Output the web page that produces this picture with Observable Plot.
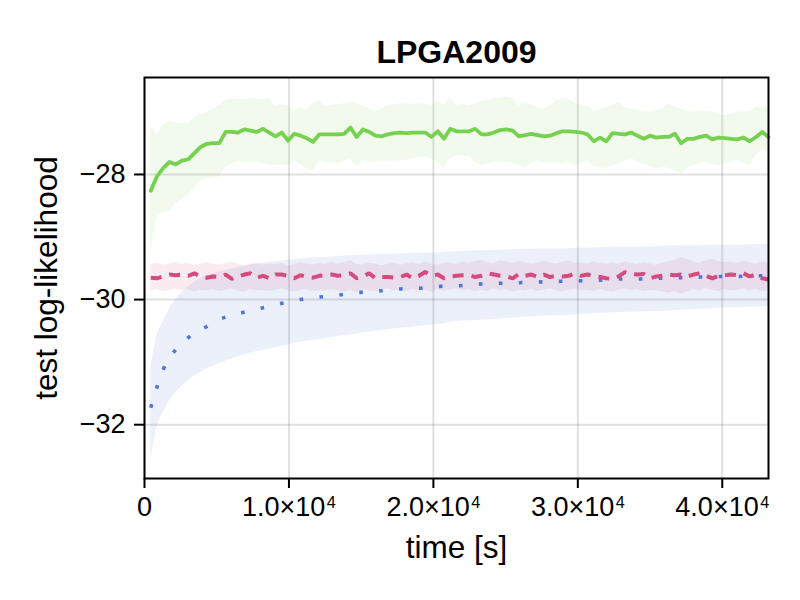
<!DOCTYPE html>
<html>
<head>
<meta charset="utf-8">
<script src="https://cdn.jsdelivr.net/npm/d3@7"></script>
<script src="https://cdn.jsdelivr.net/npm/@observablehq/plot@0.6"></script>
<style>
  html, body { margin: 0; padding: 0; background: #fff; }
  #chart { width: 800px; height: 600px; }
</style>
</head>
<body>
<div id="chart"></div>
<script>
const title = "LPGA2009";
const xLabel = "time [s]";
const yLabel = "test log-likelihood";
const xTicks = [0, 10000, 20000, 30000, 40000];
const xTickLabels = ["0", "1.0×10⁴", "2.0×10⁴", "3.0×10⁴", "4.0×10⁴"];
const yTicks = [-32, -30, -28];
const yTickLabels = ["−32", "−30", "−28"];
const xDomain = [0, 43200];
const yDomain = [-32.86, -26.45];

const time = [432,864,1296,1728,2160,2592,3024,3456,3888,4320,
4752,5184,5616,6048,6480,6912,7344,7776,8208,8640,
9072,9504,9936,10368,10800,11232,11664,12096,12528,12960,
13392,13824,14256,14688,15120,15552,15984,16416,16848,17280,
17712,18144,18576,19008,19440,19872,20304,20736,21168,21600,
22032,22464,22896,23328,23760,24192,24624,25056,25488,25920,
26352,26784,27216,27648,28080,28512,28944,29376,29808,30240,
30672,31104,31536,31968,32400,32832,33264,33696,34128,34560,
34992,35424,35856,36288,36720,37152,37584,38016,38448,38880,
39312,39744,40176,40608,41040,41472,41904,42336,42768,43200];

const greenMean = [-28.26,-28.03,-27.90,-27.80,-27.84,-27.78,-27.76,-27.66,-27.56,-27.51,
-27.50,-27.50,-27.32,-27.32,-27.33,-27.28,-27.30,-27.32,-27.27,-27.33,
-27.39,-27.33,-27.46,-27.35,-27.38,-27.42,-27.48,-27.36,-27.36,-27.36,
-27.36,-27.35,-27.25,-27.40,-27.28,-27.32,-27.38,-27.39,-27.36,-27.34,
-27.33,-27.34,-27.33,-27.33,-27.33,-27.40,-27.31,-27.43,-27.27,-27.31,
-27.31,-27.31,-27.27,-27.36,-27.36,-27.33,-27.29,-27.28,-27.30,-27.39,
-27.37,-27.35,-27.37,-27.39,-27.38,-27.34,-27.31,-27.31,-27.32,-27.33,
-27.36,-27.47,-27.41,-27.47,-27.34,-27.35,-27.36,-27.33,-27.38,-27.43,
-27.38,-27.41,-27.40,-27.40,-27.35,-27.50,-27.43,-27.43,-27.40,-27.38,
-27.44,-27.41,-27.42,-27.43,-27.44,-27.41,-27.47,-27.40,-27.32,-27.40];
const greenHi = [-27.22,-27.35,-27.22,-27.14,-27.19,-27.18,-27.18,-27.10,-27.03,-27.00,
-26.95,-26.90,-26.82,-26.80,-26.79,-26.80,-26.78,-26.80,-26.79,-26.79,
-26.92,-26.88,-26.90,-27.00,-26.92,-26.98,-26.87,-26.82,-26.92,-26.90,
-26.88,-26.87,-26.84,-26.88,-26.90,-26.95,-27.00,-26.95,-26.90,-26.88,
-26.87,-26.87,-26.88,-26.86,-26.88,-26.92,-26.82,-26.90,-26.77,-26.91,
-26.88,-26.91,-26.87,-26.84,-26.82,-26.79,-26.78,-26.76,-26.79,-26.90,
-26.86,-26.89,-26.92,-26.96,-26.90,-26.82,-26.79,-26.79,-26.86,-26.89,
-26.91,-27.00,-26.96,-26.93,-26.88,-26.86,-26.93,-26.96,-26.98,-26.99,
-27.00,-26.98,-26.95,-26.88,-26.93,-26.96,-26.99,-27.00,-26.99,-26.99,
-27.00,-27.03,-27.06,-27.03,-27.00,-27.00,-27.00,-26.93,-26.92,-26.92];
const greenLo = [-29.27,-28.68,-28.62,-28.58,-28.47,-28.40,-28.33,-28.22,-28.10,-28.07,
-28.06,-28.04,-27.88,-27.83,-27.80,-27.81,-27.80,-27.80,-27.83,-27.85,
-27.86,-27.85,-27.86,-27.78,-27.84,-27.91,-27.94,-27.78,-27.80,-27.82,
-27.82,-27.79,-27.75,-27.88,-27.78,-27.80,-27.80,-27.79,-27.79,-27.79,
-27.78,-27.78,-27.75,-27.73,-27.72,-27.75,-27.80,-27.91,-27.74,-27.70,
-27.70,-27.71,-27.80,-27.87,-27.83,-27.81,-27.80,-27.81,-27.82,-27.86,
-27.89,-27.82,-27.78,-27.81,-27.83,-27.82,-27.82,-27.80,-27.87,-27.82,
-27.78,-27.87,-27.89,-27.91,-27.87,-27.83,-27.79,-27.75,-27.79,-27.83,
-27.88,-27.91,-27.89,-27.90,-27.94,-27.99,-27.90,-27.86,-27.82,-27.80,
-27.84,-27.86,-27.83,-27.80,-27.77,-27.82,-27.86,-27.70,-27.60,-27.64];

const redMean = [-29.65,-29.66,-29.63,-29.60,-29.61,-29.60,-29.62,-29.58,-29.64,-29.65,
-29.63,-29.64,-29.60,-29.67,-29.63,-29.60,-29.58,-29.65,-29.62,-29.66,
-29.60,-29.60,-29.62,-29.66,-29.61,-29.64,-29.65,-29.62,-29.61,-29.60,
-29.62,-29.61,-29.58,-29.66,-29.63,-29.58,-29.66,-29.64,-29.64,-29.65,
-29.64,-29.60,-29.66,-29.62,-29.56,-29.62,-29.60,-29.66,-29.63,-29.62,
-29.61,-29.61,-29.64,-29.62,-29.58,-29.60,-29.62,-29.63,-29.66,-29.59,
-29.62,-29.60,-29.64,-29.60,-29.64,-29.62,-29.63,-29.62,-29.58,-29.62,
-29.60,-29.62,-29.64,-29.66,-29.67,-29.63,-29.56,-29.59,-29.60,-29.59,
-29.66,-29.63,-29.62,-29.60,-29.61,-29.60,-29.63,-29.60,-29.58,-29.62,
-29.66,-29.62,-29.61,-29.60,-29.61,-29.58,-29.63,-29.60,-29.66,-29.68];
const redHi = [-29.44,-29.42,-29.45,-29.43,-29.41,-29.44,-29.42,-29.46,-29.43,-29.41,
-29.44,-29.45,-29.42,-29.40,-29.44,-29.46,-29.43,-29.41,-29.45,-29.43,
-29.44,-29.42,-29.46,-29.44,-29.41,-29.43,-29.45,-29.42,-29.44,-29.40,
-29.43,-29.41,-29.38,-29.44,-29.45,-29.42,-29.43,-29.46,-29.44,-29.42,
-29.45,-29.43,-29.41,-29.44,-29.40,-29.43,-29.45,-29.42,-29.41,-29.44,
-29.40,-29.42,-29.39,-29.37,-29.41,-29.43,-29.38,-29.40,-29.42,-29.39,
-29.41,-29.44,-29.42,-29.39,-29.41,-29.43,-29.40,-29.38,-29.42,-29.41,
-29.43,-29.40,-29.42,-29.44,-29.41,-29.43,-29.40,-29.42,-29.44,-29.41,
-29.43,-29.45,-29.42,-29.40,-29.37,-29.33,-29.35,-29.40,-29.42,-29.38,
-29.36,-29.39,-29.41,-29.40,-29.42,-29.39,-29.41,-29.43,-29.40,-29.42];
const redLo = [-29.86,-29.84,-29.87,-29.85,-29.83,-29.86,-29.84,-29.88,-29.85,-29.86,
-29.84,-29.87,-29.85,-29.83,-29.86,-29.88,-29.84,-29.86,-29.85,-29.87,
-29.85,-29.83,-29.86,-29.88,-29.85,-29.84,-29.87,-29.85,-29.86,-29.84,
-29.86,-29.88,-29.85,-29.89,-29.84,-29.86,-29.87,-29.85,-29.83,-29.86,
-29.85,-29.87,-29.84,-29.86,-29.85,-29.88,-29.84,-29.86,-29.85,-29.83,
-29.86,-29.84,-29.88,-29.85,-29.87,-29.83,-29.86,-29.84,-29.88,-29.85,
-29.86,-29.84,-29.87,-29.85,-29.83,-29.86,-29.88,-29.85,-29.84,-29.86,
-29.85,-29.87,-29.84,-29.86,-29.88,-29.85,-29.83,-29.86,-29.84,-29.87,
-29.85,-29.86,-29.88,-29.90,-29.87,-29.91,-29.88,-29.84,-29.86,-29.83,
-29.85,-29.87,-29.84,-29.86,-29.85,-29.83,-29.86,-29.84,-29.87,-29.85];

const blueTime = [432,864,1296,2160,3024,4320,5184,6912,8208,9504,
10800,12096,13392,14688,16416,17712,19008,20304,21600,23328,
24624,25920,27216,28512,30240,31536,32832,34128,35424,37152,
38448,39744,41040,42336,43200];
const blueMean = [-31.73,-31.40,-31.12,-30.80,-30.61,-30.43,-30.32,-30.20,-30.13,-30.06,
-30.00,-29.96,-29.93,-29.89,-29.86,-29.83,-29.82,-29.79,-29.78,-29.75,
-29.74,-29.73,-29.72,-29.71,-29.70,-29.69,-29.67,-29.67,-29.66,-29.65,
-29.64,-29.63,-29.63,-29.62,-29.62];
const blueLo = [-32.55,-32.05,-31.80,-31.49,-31.30,-31.11,-31.02,-30.88,-30.81,-30.75,
-30.68,-30.64,-30.59,-30.55,-30.49,-30.46,-30.43,-30.40,-30.35,-30.33,
-30.31,-30.29,-30.27,-30.26,-30.24,-30.22,-30.21,-30.20,-30.19,-30.17,
-30.16,-30.14,-30.13,-30.12,-30.11];
const blueHi = [-31.08,-30.58,-30.35,-30.00,-29.80,-29.62,-29.56,-29.47,-29.42,-29.38,
-29.35,-29.33,-29.31,-29.29,-29.28,-29.27,-29.26,-29.25,-29.23,-29.22,
-29.21,-29.20,-29.19,-29.19,-29.18,-29.17,-29.16,-29.16,-29.15,-29.14,
-29.14,-29.13,-29.13,-29.12,-29.12];

const green = "#76d150";
const red = "#d64b7f";
const blue = "#4d77d6";

const greenData = time.map((t, i) => ({t, m: greenMean[i], lo: greenLo[i], hi: greenHi[i]}));
const redData = time.map((t, i) => ({t, m: redMean[i], lo: redLo[i], hi: redHi[i]}));
const blueData = blueTime.map((t, i) => ({t, m: blueMean[i], lo: blueLo[i], hi: blueHi[i]}));

const fontFamily = "'Liberation Sans', Arial, Helvetica, sans-serif";

const chart = Plot.plot({
  width: 800,
  height: 600,
  marginLeft: 144,
  marginRight: 32,
  marginTop: 77,
  marginBottom: 122,
  style: {fontFamily, fontSize: "27px", background: "#fff", color: "#000", overflow: "visible"},
  x: {domain: xDomain},
  y: {domain: yDomain},
  marks: [
    Plot.gridX(xTicks, {stroke: "#000", strokeOpacity: 0.12, strokeWidth: 2}),
    Plot.gridY(yTicks, {stroke: "#000", strokeOpacity: 0.12, strokeWidth: 2}),
    Plot.areaY(blueData, {x: "t", y1: "lo", y2: "hi", fill: blue, fillOpacity: 0.11, curve: "monotone-x"}),
    Plot.areaY(redData, {x: "t", y1: "lo", y2: "hi", fill: red, fillOpacity: 0.11}),
    Plot.areaY(greenData, {x: "t", y1: "lo", y2: "hi", fill: green, fillOpacity: 0.1}),
    Plot.line(blueData, {x: "t", y: "m", stroke: blue, strokeWidth: 3.6, strokeDasharray: "3.6 16.4", strokeLinecap: "butt", curve: "monotone-x"}),
    Plot.line(redData, {x: "t", y: "m", stroke: red, strokeWidth: 4, strokeDasharray: "11 8", strokeLinecap: "butt", strokeLinejoin: "miter"}),
    Plot.line(greenData, {x: "t", y: "m", stroke: green, strokeWidth: 3.8}),
    Plot.frame({stroke: "#000", strokeWidth: 2}),
    Plot.axisX(xTicks, {
      tickFormat: d => xTickLabels[xTicks.indexOf(d)],
      tickSize: 10, tickPadding: 8, strokeWidth: 2, fontSize: 27, label: null
    }),
    Plot.axisY(yTicks, {
      tickFormat: d => yTickLabels[yTicks.indexOf(d)],
      tickSize: 10, tickPadding: 9, strokeWidth: 2, fontSize: 27, label: null
    }),
    Plot.text([title], {frameAnchor: "top", lineAnchor: "middle", dy: -25, fontWeight: "bold", fontSize: 32, fill: "#000"}),
    Plot.text([xLabel], {frameAnchor: "bottom", lineAnchor: "middle", dy: 69, fontSize: 31.5, fill: "#000"}),
    Plot.text([yLabel], {frameAnchor: "left", textAnchor: "middle", lineAnchor: "middle", dx: -98, rotate: -90, fontSize: 31.5, fill: "#000"})
  ]
});

// Render the exponent of the x tick labels as a raised, smaller digit
d3.select(chart).selectAll('g[aria-label="x-axis tick label"] text').each(function () {
  const s = this.textContent;
  const k = s.indexOf("⁴");
  if (k < 0) return;
  const el = d3.select(this);
  el.text(null);
  el.append("tspan").text(s.slice(0, k));
  el.append("tspan").attr("font-size", "0.6em").attr("dx", "1.5").attr("dy", "-8").text("4");
});

document.getElementById("chart").appendChild(chart);
</script>
</body>
</html>
